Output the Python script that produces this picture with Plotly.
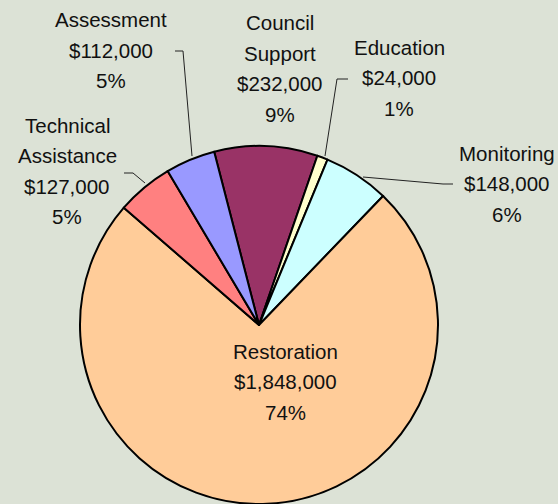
import plotly.graph_objects as go

W, H = 558, 504

categories = ["Council Support", "Education", "Monitoring", "Restoration",
              "Technical Assistance", "Assessment"]
amounts = [232000, 24000, 148000, 1848000, 127000, 112000]
percent_labels = ["9%", "1%", "6%", "74%", "5%", "5%"]
name_lines = [["Council", "Support"], ["Education"], ["Monitoring"], ["Restoration"],
              ["Technical", "Assistance"], ["Assessment"]]
colors = ["#993366", "#FFFFCC", "#CCFFFF", "#FFCC99", "#FF8080", "#9999FF"]

# label layout (pixel positions: centre x, first-line y)
label_pos = [(280, 23), (399, 47), (507, 153), (285, 351), (67, 125), (111, 20)]
LINE_GAP = 30.5

# leader lines (pixel polylines)
leaders = [
    None,
    [(348, 79), (337, 79), (325, 156)],
    [(453, 184), (443, 184), (363, 177)],
    None,
    [(124, 173), (133, 173), (145, 183)],
    [(175, 51), (183, 51), (192, 156)],
]

def px(x):
    return x / W

def py(y):
    return 1 - y / H

cx, cy, r = 259, 325, 181
dom_y_bottom = max(0.0, py(cy + r))
half_h = py(cy) - dom_y_bottom
half_w = half_h * H / W

fig = go.Figure(go.Pie(
    labels=categories,
    values=amounts,
    sort=False,
    direction="clockwise",
    rotation=-14.5,
    marker=dict(colors=colors, line=dict(color="black", width=2)),
    textinfo="none",
    hoverinfo="label+value+percent",
    showlegend=False,
    domain=dict(x=[px(cx) - half_w, px(cx) + half_w], y=[dom_y_bottom, py(cy) + half_h]),
))

annotations = []
for i, cat in enumerate(categories):
    lines = name_lines[i] + ["${:,}".format(amounts[i]), percent_labels[i]]
    x0, y0 = label_pos[i]
    for k, t in enumerate(lines):
        annotations.append(dict(
            x=px(x0), y=py(y0 + k * LINE_GAP), xref="paper", yref="paper",
            text=t, showarrow=False, xanchor="center", yanchor="middle",
            font=dict(family="Liberation Sans, Arial, sans-serif", size=20.5, color="#111111"),
        ))

shapes = []
for pts in leaders:
    if not pts:
        continue
    path = "M " + " L ".join(f"{px(x)},{py(y)}" for x, y in pts)
    shapes.append(dict(type="path", path=path, xref="paper", yref="paper",
                       line=dict(color="#222222", width=1)))

fig.update_layout(
    width=W, height=H,
    margin=dict(l=0, r=0, t=0, b=0),
    paper_bgcolor="#DCE2D6",
    plot_bgcolor="#DCE2D6",
    annotations=annotations,
    shapes=shapes,
)

fig.write_html(
    "out.html",
    config={"displayModeBar": False},
    post_script="document.body.style.margin='0';document.body.style.padding='0';"
                "document.body.style.overflow='hidden';"
                "document.documentElement.style.overflow='hidden';",
)
